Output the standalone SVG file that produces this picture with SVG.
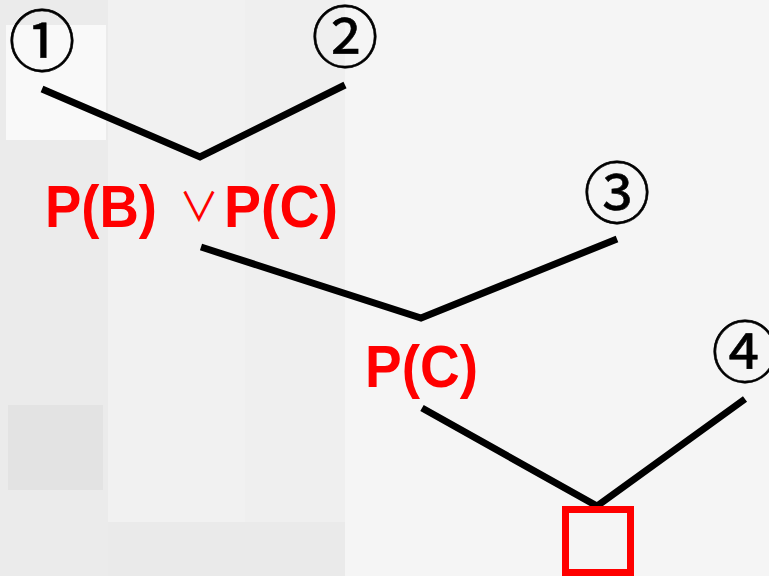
<svg xmlns="http://www.w3.org/2000/svg" width="769" height="576" viewBox="0 0 769 576">
  <style>
    .edge { stroke: #000; stroke-width: 7; fill: none; }
    .num { font-family: "Noto Sans CJK JP", "Noto Sans CJK SC", sans-serif; font-size: 67px; fill: #000; stroke: #000; stroke-width: 0.6; text-anchor: middle; }
    .lbl { font-family: "Liberation Sans", Arial, sans-serif; font-weight: bold; font-size: 60px; fill: #ff0000; }
    .or { font-family: "Noto Sans CJK JP", "DejaVu Sans", sans-serif; font-size: 40px; fill: #ff0000; }
  </style>

  <!-- faded backdrop -->
  <g id="backdrop">
    <rect x="0" y="0" width="769" height="576" fill="#f4f4f4"/>
    <rect x="0" y="0" width="108" height="576" fill="#ebebeb"/>
    <rect x="6" y="25" width="100" height="115" fill="#f9f9f9"/>
    <rect x="8" y="405" width="95" height="85" fill="#e3e3e3"/>
    <rect x="108" y="0" width="137" height="576" fill="#f1f1f1"/>
    <rect x="245" y="0" width="100" height="576" fill="#efefef"/>
    <rect x="108" y="522" width="237" height="54" fill="#eaeaea"/>
    <rect x="345" y="0" width="424" height="576" fill="#f5f5f5"/>
  </g>

  <!-- connectors -->
  <g id="connectors">
    <polyline class="edge" points="42,89 200,157 345,85"/>
    <polyline class="edge" points="201,247 421,318 617,239"/>
    <polyline class="edge" points="422,408 597,506 745,399"/>
  </g>

  <g id="n1"><text class="num" x="42" y="66">①</text></g>
  <g id="n2"><text class="num" x="345" y="62">②</text></g>
  <g id="n3"><text class="num" x="617" y="218">③</text></g>
  <g id="n4"><text class="num" x="745" y="377">④</text></g>

  <g id="union">
    <text class="lbl" x="45" y="227" textLength="112" lengthAdjust="spacingAndGlyphs">P(B)</text>
    <text class="or" x="179" y="221">∨</text>
    <text class="lbl" x="224" y="227" textLength="114" lengthAdjust="spacingAndGlyphs">P(C)</text>
  </g>

  <g id="pc">
    <text class="lbl" x="365" y="387" textLength="113" lengthAdjust="spacingAndGlyphs">P(C)</text>
  </g>

  <g id="result">
    <rect x="565.5" y="509.5" width="65" height="63" fill="none" stroke="#ff0000" stroke-width="7"/>
  </g>
</svg>
